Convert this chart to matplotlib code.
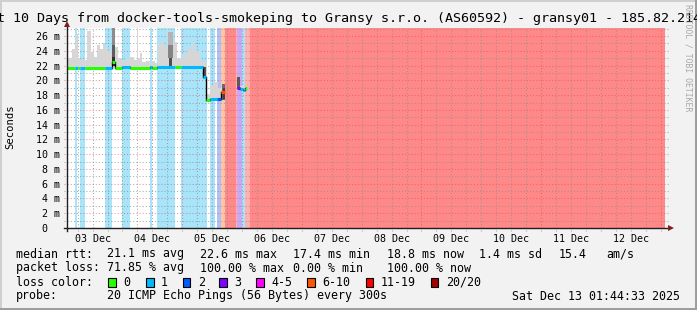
import matplotlib
matplotlib.use("Agg")
import matplotlib.pyplot as plt
from matplotlib.patches import Rectangle
import numpy as np

plt.rcParams['font.family'] = ['DejaVu Sans Mono']

# ---------------- data ----------------
title_text = "Last 10 Days from docker-tools-smokeping to Gransy s.r.o. (AS60592) - gransy01 - 185.82.214"
t_start = 0.0726     # days since 03 Dec 00:00 (01:44:33)
t_end = 10.0726
day_labels = ["03 Dec", "04 Dec", "05 Dec", "06 Dec", "07 Dec",
              "08 Dec", "09 Dec", "10 Dec", "11 Dec", "12 Dec"]
y_ticks_ms = [0, 2, 4, 6, 8, 10, 12, 14, 16, 18, 20, 22, 24, 26]
y_max_ms = 27.1

loss_names = ["0", "1", "2", "3", "4-5", "6-10", "11-19", "20/20"]
loss_colors = ["#26ff00", "#00b8ff", "#0059ff", "#7e00ff", "#ff00ff", "#ff5500", "#ff0000", "#a10000"]
band_colors = ["#ffffff", "#a8e4fa", "#b0bff7", "#c9a9f7", "#f5b0f5", "#ffc6a6", "#ffb0b0", "#ff8888"]

# background loss bands: start day, end day, loss class index
band_start = [0.206, 0.290, 0.708, 0.992, 1.461, 1.578, 1.979, 2.464, 2.581, 2.648, 2.715, 2.899, 2.915, 2.999, 3.049, 3.083, 3.133]
band_end   = [0.240, 0.374, 0.825, 1.126, 1.494, 1.879, 2.414, 2.548, 2.648, 2.715, 2.899, 2.915, 2.999, 3.049, 3.083, 3.133, 10.0726]
band_loss  = [1, 1, 1, 1, 1, 1, 1, 1, 2, 5, 7, 6, 3, 1, 6, 6, 7]

# light smoke (ms)
smoke_start = [0.0726, 0.156, 0.206, 0.240, 0.257, 0.290, 0.407, 0.474, 0.524, 0.574, 0.624, 0.675,
               0.708, 0.758, 0.825, 0.875, 0.925, 0.992, 1.076, 1.126, 1.193, 1.243, 1.260, 1.293,
               1.327, 1.394, 1.461, 1.494, 1.544, 1.594, 1.645, 1.695, 1.745, 1.761, 1.845, 1.912,
               1.996, 2.079, 2.146, 2.213, 2.297, 2.347, 2.414, 2.464, 2.531, 2.598, 2.665,
               2.915, 2.966, 3.049]
smoke_end   = [0.156, 0.206, 0.240, 0.257, 0.290, 0.407, 0.474, 0.524, 0.574, 0.624, 0.675, 0.708,
               0.758, 0.825, 0.875, 0.925, 0.992, 1.076, 1.126, 1.193, 1.243, 1.260, 1.293, 1.327,
               1.394, 1.461, 1.494, 1.544, 1.594, 1.645, 1.695, 1.745, 1.761, 1.845, 1.912, 1.996,
               2.079, 2.146, 2.213, 2.297, 2.347, 2.414, 2.464, 2.531, 2.598, 2.665, 2.715,
               2.966, 3.049, 3.099]
smoke_low   = [21.5, 21.5, 21.5, 21.5, 21.5, 21.45, 21.5, 21.5, 21.5, 21.5, 21.5, 21.5,
               21.5, 21.5, 21.8, 21.5, 21.5, 21.55, 21.55, 21.5, 21.5, 21.5, 21.5, 21.5,
               21.5, 21.5, 21.55, 21.5, 21.5, 21.6, 21.6, 21.6, 21.6, 21.6, 21.6, 21.55,
               21.6, 21.6, 21.6, 21.6, 21.6, 20.2, 17.2, 17.3, 17.3, 17.3, 17.2,
               18.7, 18.6, 18.8]
smoke_high  = [23.0, 24.2, 25.4, 26.3, 23.0, 22.8, 26.7, 23.8, 23.2, 24.8, 24.3, 25.0,
               24.5, 24.0, 27.1, 24.5, 23.0, 22.6, 23.0, 23.2, 22.8, 27.1, 23.0, 23.7,
               22.5, 22.6, 22.4, 22.6, 22.4, 25.0, 25.2, 24.5, 27.1, 26.5, 25.2, 23.0,
               23.5, 24.2, 25.0, 24.0, 22.8, 22.5, 18.2, 19.2, 19.8, 19.0, 19.5,
               20.4, 19.3, 19.1]

# darker smoke (ms)
dark_start = [0.825, 0.825, 0.825, 1.761, 1.761, 1.778, 2.347, 2.665, 2.682, 2.915]
dark_end   = [0.875, 0.875, 0.875, 1.845, 1.845, 1.828, 2.397, 2.715, 2.715, 2.966]
dark_low   = [24.8, 23.2, 21.9, 24.8, 23.0, 21.8, 20.3, 17.3, 17.5, 18.8]
dark_high  = [27.1, 24.8, 23.2, 26.5, 24.8, 23.0, 21.8, 19.5, 19.0, 20.4]
dark_color = ["#8c8c8c", "#5e5e5e", "#303030", "#b4b4b4", "#848484", "#505050", "#555555", "#6a6a6a", "#404040", "#5a5a5a"]

# median rtt segments (ms) and loss class
med_start = [0.0726, 0.206, 0.257, 0.290, 0.374, 0.708, 0.825, 0.875, 0.992, 1.126, 1.461, 1.494,
             1.578, 1.879, 1.979, 2.347, 2.397, 2.464, 2.581, 2.648, 2.915, 2.966, 3.016, 3.049]
med_end   = [0.206, 0.257, 0.290, 0.374, 0.708, 0.825, 0.875, 0.992, 1.126, 1.461, 1.494, 1.578,
             1.879, 1.979, 2.347, 2.397, 2.464, 2.581, 2.648, 2.715, 2.966, 3.016, 3.049, 3.083]
med_val   = [21.7, 21.7, 21.7, 21.65, 21.7, 21.7, 22.5, 21.7, 21.75, 21.7, 21.75, 21.7,
             21.8, 21.75, 21.8, 20.5, 17.35, 17.5, 17.5, 18.4, 19.0, 18.8, 18.7, 19.0]
med_loss  = [0, 1, 0, 1, 0, 1, 0, 0, 1, 0, 1, 0,
             1, 0, 1, 1, 0, 1, 2, 5, 3, 1, 1, 0]

legend_row1 = [("median rtt:", 16), ("21.1 ms avg", 107.3), ("22.6 ms max", 200), ("17.4 ms min", 293.3),
               ("18.8 ms now", 386.7), ("1.4 ms sd", 479.3), ("15.4", 558.3), ("am/s", 606.7)]
legend_row2 = [("packet loss:", 16), ("71.85 % avg", 107.3), ("100.00 % max", 200), ("0.00 % min", 293.3),
               ("100.00 % now", 386.7)]
loss_box_x = [108.3, 146, 182.7, 219.3, 256, 307.3, 365.7, 430.7]
probe_text = "20 ICMP Echo Pings (56 Bytes) every 300s"
date_text = "Sat Dec 13 01:44:33 2025"
watermark = "RRDTOOL / TOBI OETIKER"

# ---------------- figure ----------------
W, H = 697, 310
fig = plt.figure(figsize=(W / 100, H / 100), dpi=100)
fig.patch.set_facecolor("#f2f2f2")

def fx(x):
    return x / W

def fy(y):
    return 1 - y / H

# 3D border
fig.add_artist(Rectangle((0, fy(2)), 1, 2 / H, transform=fig.transFigure, color="#cfcfcf", lw=0))
fig.add_artist(Rectangle((0, 0), 2 / W, 1, transform=fig.transFigure, color="#cfcfcf", lw=0))
fig.add_artist(Rectangle((0, 0), 1, 2 / H, transform=fig.transFigure, color="#9e9e9e", lw=0))
fig.add_artist(Rectangle((fx(W - 2), 0), 2 / W, 1, transform=fig.transFigure, color="#9e9e9e", lw=0))

L, R, T, B = 67, 665, 28, 228
ax = fig.add_axes([fx(L), fy(B), (R - L) / W, (B - T) / H])
ax.set_facecolor("white")
ax.set_xlim(t_start, t_end)
ax.set_ylim(0, y_max_ms)
for s in ax.spines.values():
    s.set_visible(False)

# loss bands
for s, e, l in zip(band_start, band_end, band_loss):
    ax.axvspan(s, e, color=band_colors[l], lw=0, zorder=1)

# grid
grid_c = (0.56, 0.56, 0.56, 0.75)
mgrid_c = (0.87, 0.31, 0.31, 0.6)
dash = (0, (1, 2))
ext_l = -3 / (R - L)
ext_r = 1 + 4 / (R - L)
for v in np.arange(1, 27.5, 1):
    if v > y_max_ms:
        break
    major = (int(v) % 2 == 0)
    ax.plot([ext_l, ext_r], [v / y_max_ms] * 2, transform=ax.transAxes, clip_on=False,
            color=mgrid_c if major else grid_c, lw=0.75, ls=dash, zorder=3)
for k in range(0, 41):
    t = k * 0.25
    if t < t_start or t > t_end:
        continue
    major = (k % 8 == 0)
    ax.plot([t, t], [-2.5 / 200 * y_max_ms, y_max_ms], clip_on=False,
            color=mgrid_c if major else grid_c, lw=0.75, ls=dash, zorder=3)

# smoke
ax.bar(smoke_start, np.array(smoke_high) - np.array(smoke_low),
       width=np.array(smoke_end) - np.array(smoke_start), bottom=smoke_low,
       align="edge", color="#d6d6d6", lw=0, zorder=4)
for s, e, lo, hi, c in zip(dark_start, dark_end, dark_low, dark_high, dark_color):
    ax.bar(s, hi - lo, width=e - s, bottom=lo, align="edge", color=c, lw=0, zorder=5)

# median line: black connectors then coloured segments
for i in range(1, len(med_start)):
    if abs(med_start[i] - med_end[i - 1]) < 1e-6:
        ax.plot([med_start[i], med_start[i]], [med_val[i - 1], med_val[i]], color="black", lw=1.0, zorder=6)
for s, e, v, l in zip(med_start, med_end, med_val, med_loss):
    ax.plot([s, e], [v, v], color=loss_colors[l], lw=2.2, solid_capstyle="butt", zorder=7)

# axis lines and arrows
axis_c = (0.12, 0.12, 0.12)
arrow_c = (0.5, 0.12, 0.12)
ax.plot([0, 0], [-3 / 200, 1 + 4 / 200], transform=ax.transAxes, clip_on=False, color=axis_c, lw=1.0, zorder=8)
ax.plot([-3 / 598, 1 + 4 / 598], [0, 0], transform=ax.transAxes, clip_on=False, color=axis_c, lw=1.0, zorder=8)
ax.plot([0], [1 + 4.5 / 200], marker="^", ms=4.5, color=arrow_c, transform=ax.transAxes, clip_on=False, zorder=9, mew=0)
ax.plot([1 + 6 / 598], [0], marker=">", ms=4.5, color=arrow_c, transform=ax.transAxes, clip_on=False, zorder=9, mew=0)

# ticks
ax.set_xticks([d + 0.5 for d in range(len(day_labels))])
ax.set_xticklabels(day_labels)
ax.set_yticks(y_ticks_ms)
ax.set_yticklabels([("%d m" % v) if v else "0  " for v in y_ticks_ms])
ax.tick_params(axis="both", length=0, labelsize=7.2)
ax.tick_params(axis="x", pad=4)
ax.tick_params(axis="y", pad=5)

fig.text(fx(10), fy(127), "Seconds", rotation=90, ha="center", va="center", fontsize=7.6)

# title (wider than the image, cut at both sides as in the original)
fig.text(fx(-27.5), fy(18.5), title_text, ha="left", va="center", fontsize=9.6)

# watermark
fig.text(fx(688), fy(4), watermark, rotation=270, ha="center", va="top", fontsize=5.9, color="#a8a8a8")

# legend
LF = 8.4
for txt, x in legend_row1:
    fig.text(fx(x), fy(254), txt, ha="left", va="center", fontsize=LF)
for txt, x in legend_row2:
    fig.text(fx(x), fy(268), txt, ha="left", va="center", fontsize=LF)
fig.text(fx(16), fy(282), "loss color:", ha="left", va="center", fontsize=LF)
for i, bx in enumerate(loss_box_x):
    fig.add_artist(Rectangle((fx(bx), fy(286.5)), 7.5 / W, 9 / H, transform=fig.transFigure,
                             facecolor=loss_colors[i], edgecolor="black", lw=0.8))
    fig.text(fx(bx + 15), fy(282), loss_names[i], ha="left", va="center", fontsize=LF)
fig.text(fx(16), fy(296), "probe:", ha="left", va="center", fontsize=LF)
fig.text(fx(107.3), fy(296), probe_text, ha="left", va="center", fontsize=LF)
fig.text(fx(680.5), fy(296), date_text, ha="right", va="center", fontsize=LF)

fig.savefig("out.png", dpi=100, facecolor=fig.get_facecolor())
